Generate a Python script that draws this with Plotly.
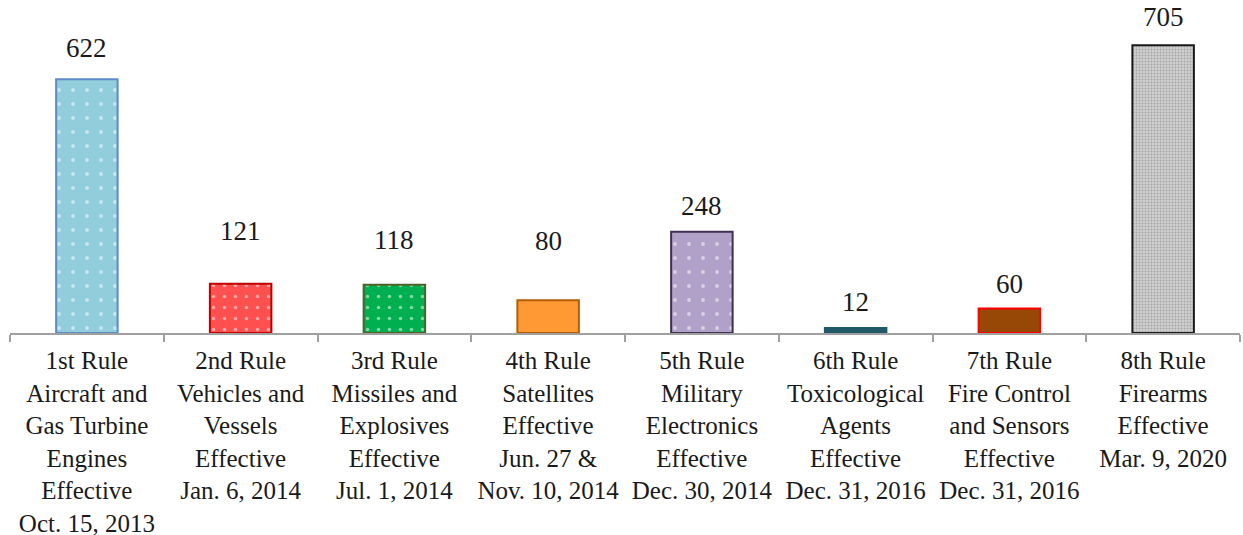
import plotly.graph_objects as go

categories = [
    "1st Rule<br>Aircraft and<br>Gas Turbine<br>Engines<br>Effective<br>Oct. 15, 2013",
    "2nd Rule<br>Vehicles and<br>Vessels<br>Effective<br>Jan. 6, 2014",
    "3rd Rule<br>Missiles and<br>Explosives<br>Effective<br>Jul. 1, 2014",
    "4th Rule<br>Satellites<br>Effective<br>Jun. 27 &<br>Nov. 10, 2014",
    "5th Rule<br>Military<br>Electronics<br>Effective<br>Dec. 30, 2014",
    "6th Rule<br>Toxicological<br>Agents<br>Effective<br>Dec. 31, 2016",
    "7th Rule<br>Fire Control<br>and Sensors<br>Effective<br>Dec. 31, 2016",
    "8th Rule<br>Firearms<br>Effective<br>Mar. 9, 2020",
]
values = [622, 121, 118, 80, 248, 12, 60, 705]

fill_colors = ["#92CDDC", "#FF5050", "#00B050", "#FF9933", "#B1A0C7", "#215968", "#974706", "#D0D0D0"]
line_colors = ["#5B8BC9", "#C00000", "#4F6228", "#B35C00", "#3F3151", "#215968", "#FF0000", "#1A1A1A"]
pattern_shapes = [".", ".", ".", "", ".", "", "", "."]
pattern_fg = ["#FFFFFF", "#FFFFFF", "#FFFFFF", "#FFFFFF", "#FFFFFF", "#FFFFFF", "#FFFFFF", "#7A7A7A"]
pattern_size = [14, 11, 11, 10, 14, 10, 10, 3]
pattern_solidity = [0.06, 0.08, 0.08, 0.1, 0.06, 0.1, 0.1, 0.35]
label_shift_px = [31, 53, 45, 59, 26, 26, 25, 28]

FONT = "Liberation Serif"

fig = go.Figure()
for i, (c, v) in enumerate(zip(categories, values)):
    marker = dict(color=fill_colors[i], line=dict(color=line_colors[i], width=2))
    if pattern_shapes[i]:
        marker["pattern"] = dict(
            shape=pattern_shapes[i],
            fgcolor=pattern_fg[i],
            bgcolor=fill_colors[i],
            size=pattern_size[i],
            solidity=pattern_solidity[i],
            fillmode="overlay",
        )
    fig.add_trace(go.Bar(x=[c], y=[v], marker=marker, width=0.4, hoverinfo="x+y"))

for c, v, s in zip(categories, values, label_shift_px):
    fig.add_annotation(
        x=c, y=v, text=str(v), showarrow=False,
        yanchor="middle", yshift=s,
        font=dict(family=FONT, size=27, color="#1a1a1a"),
    )

fig.update_layout(
    width=1243, height=535,
    margin=dict(l=10, r=3, t=27, b=202, autoexpand=False),
    paper_bgcolor="white", plot_bgcolor="white",
    barmode="overlay",
    showlegend=False,
    font=dict(family=FONT, size=25, color="#1a1a1a"),
)
fig.update_xaxes(
    range=[-0.5, 7.5], automargin=False,
    categoryorder="array", categoryarray=categories,
    showline=True, linecolor="#A0A0A0", linewidth=2,
    ticks="outside", tickson="boundaries", ticklen=7, tickcolor="#A0A0A0", tickwidth=2,
    ticklabelstandoff=4,
    tickfont=dict(family=FONT, size=25, color="#1a1a1a"),
    showgrid=False,
)
fig.update_yaxes(
    range=[0, 750], visible=False, showgrid=False, zeroline=False, automargin=False,
)

fig.write_html(
    "out.html",
    config={"displayModeBar": False},
    post_script="document.body.style.margin='0';",
)
